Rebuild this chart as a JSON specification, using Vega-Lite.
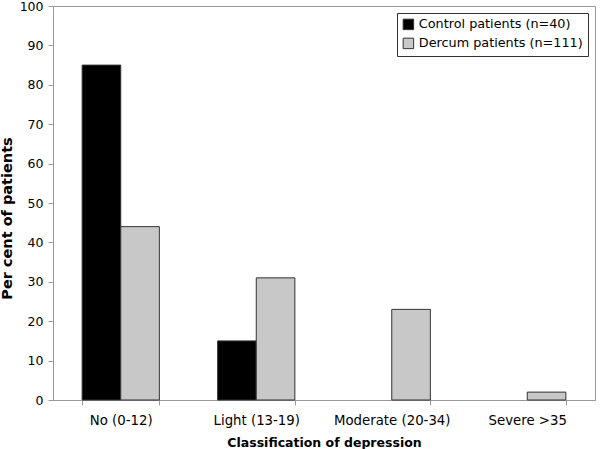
{
  "$schema": "https://vega.github.io/schema/vega-lite/v6.json",
  "width": 542,
  "height": 394,
  "autosize": {"type": "none"},
  "padding": {"left": 53, "top": 6, "right": 5, "bottom": 49},
  "background": "white",
  "config": {
    "font": "DejaVu Sans",
    "view": {"stroke": "#999999", "strokeWidth": 1}
  },
  "data": {
    "values": [
      {"cls": "No (0-12)", "group": "Control patients (n=40)", "pct": 85},
      {"cls": "No (0-12)", "group": "Dercum patients (n=111)", "pct": 44},
      {"cls": "Light (13-19)", "group": "Control patients (n=40)", "pct": 15},
      {"cls": "Light (13-19)", "group": "Dercum patients (n=111)", "pct": 31},
      {"cls": "Moderate (20-34)", "group": "Control patients (n=40)", "pct": 0},
      {"cls": "Moderate (20-34)", "group": "Dercum patients (n=111)", "pct": 23},
      {"cls": "Severe >35", "group": "Control patients (n=40)", "pct": 0},
      {"cls": "Severe >35", "group": "Dercum patients (n=111)", "pct": 2}
    ]
  },
  "mark": {"type": "bar", "stroke": "#333333", "strokeWidth": 1},
  "encoding": {
    "x": {
      "field": "cls",
      "type": "nominal",
      "sort": null,
      "scale": {"paddingInner": 0.43, "paddingOuter": 0.215},
      "axis": {
        "title": "Classification of depression",
        "titleFontSize": 12.5,
        "titleFontWeight": "bold",
        "titleColor": "#000000",
        "titlePadding": 10,
        "labelAngle": 0,
        "labelFontSize": 13.3,
        "labelColor": "#000000",
        "labelPadding": 8,
        "tickBand": "extent",
        "tickSize": 5,
        "tickColor": "#999999",
        "domainColor": "#999999"
      }
    },
    "xOffset": {"field": "group", "type": "nominal", "scale": {"paddingInner": 0, "paddingOuter": 0}},
    "y": {
      "field": "pct",
      "type": "quantitative",
      "scale": {"domain": [0, 100]},
      "axis": {
        "title": "Per cent of patients",
        "titleFontSize": 14.5,
        "titleFontWeight": "bold",
        "titleColor": "#000000",
        "titleX": -42,
        "titleY": 212,
        "titleAlign": "center",
        "titleBaseline": "alphabetic",
        "values": [0, 10, 20, 30, 40, 50, 60, 70, 80, 90, 100],
        "grid": false,
        "labelFontSize": 12.5,
        "labelColor": "#000000",
        "labelPadding": 5,
        "tickSize": 5,
        "tickColor": "#999999",
        "domainColor": "#999999"
      }
    },
    "strokeOpacity": {
      "condition": {"test": "datum.pct === 0", "value": 0},
      "value": 1
    },
    "color": {
      "field": "group",
      "type": "nominal",
      "scale": {"range": ["#000000", "#c8c8c8"]},
      "legend": {
        "title": null,
        "orient": "top-right",
        "offset": 7,
        "strokeColor": "#333333",
        "padding": 5,
        "symbolType": "square",
        "symbolSize": 110,
        "symbolStrokeColor": "#333333",
        "symbolStrokeWidth": 1,
        "labelFontSize": 12.8,
        "labelLimit": 300,
        "labelColor": "#000000",
        "rowPadding": 4,
        "symbolOffset": 0,
        "labelOffset": 4
      }
    }
  }
}
